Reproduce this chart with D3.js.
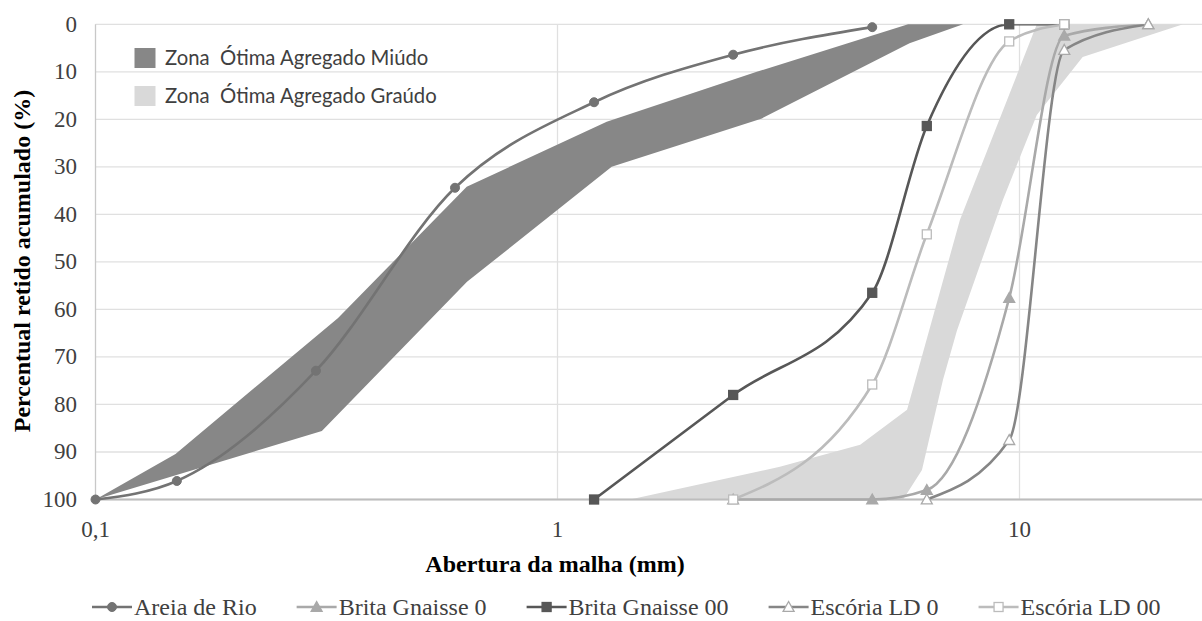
<!DOCTYPE html>
<html>
<head>
<meta charset="utf-8">
<script src="https://cdn.jsdelivr.net/npm/d3@7"></script>
<style>
  html, body { margin: 0; padding: 0; background: #ffffff; }
  svg { display: block; }
</style>
</head>
<body>
<svg id="chart" width="1202" height="621"></svg>
<script>
// ---- Axis ticks -----------------------------------------------------------
const yTickValues = [0, 10, 20, 30, 40, 50, 60, 70, 80, 90, 100];
const xTickValues = [0.1, 1, 10];
const xTickLabels = ["0,1", "1", "10"];

// ---- Sieve curves (abertura em mm, % retido acumulado) --------------------
const areiaX = [0.1, 0.15, 0.3, 0.6, 1.2, 2.4, 4.8];
const areiaY = [100, 96.1, 72.9, 34.4, 16.4, 6.4, 0.6];

const britaG0X = [2.4, 4.8, 6.3, 9.5, 12.5, 19];
const britaG0Y = [100, 100, 98, 57.6, 2.4, 0];

const britaG00X = [1.2, 2.4, 4.8, 6.3, 9.5, 12.5];
const britaG00Y = [100, 78, 56.5, 21.4, 0, 0];

const escoriaLD0X = [6.3, 9.5, 12.5, 19];
const escoriaLD0Y = [100, 87.5, 5.4, 0];

const escoriaLD00X = [2.4, 4.8, 6.3, 9.5, 12.5];
const escoriaLD00Y = [100, 75.8, 44.2, 3.6, 0];

// ---- Optimal grading zones -------------------------------------------------
// fine aggregate: edge with the lower retained values, then the higher one
const miudoLowX = [0.1, 0.149, 0.335, 0.636, 1.278, 2.70, 5.74, 7.55];
const miudoLowY = [100, 90.4, 61.8, 34.2, 20.5, 10, 0, 0];
const miudoHighX = [0.1, 0.309, 0.637, 1.31, 2.77, 5.78, 7.55];
const miudoHighY = [100, 85.6, 54.2, 30, 19.8, 4, 0];

// coarse aggregate: finer-side edge, then coarser-side edge
const graudoFineX = [1.435, 3.03, 4.52, 5.71, 7.43, 10.9];
const graudoFineY = [100, 93.1, 88.5, 81.1, 41.2, 0];
const graudoCoarseX = [5.60, 6.15, 6.83, 7.32, 9.21, 10.9, 13.7, 22.6];
const graudoCoarseY = [100, 93.8, 74.8, 64.5, 36.9, 19.1, 6.9, 0];

// ---- Legend labels ---------------------------------------------------------
const seriesNames = ["Areia de Rio", "Brita Gnaisse 0", "Brita Gnaisse 00", "Escória LD 0", "Escória LD 00"];
const zoneNames = ["Zona  Ótima Agregado Miúdo", "Zona  Ótima Agregado Graúdo"];

// ---- Layout -----------------------------------------------------------------
const W = 1202, H = 621;
const plot = { left: 95.5, right: 1202, top: 24.3, bottom: 499.5 };
const decadePx = 462;
const xMax = 0.1 * Math.pow(10, (plot.right - plot.left) / decadePx);

const x = d3.scaleLog().domain([0.1, xMax]).range([plot.left, plot.right]);
const y = d3.scaleLinear().domain([0, 100]).range([plot.top, plot.bottom]);

const svg = d3.select("#chart");
const zip = (xs, ys) => xs.map((v, i) => [v, ys[i]]);

svg.append("defs").append("clipPath").attr("id", "plot-clip")
  .append("rect")
  .attr("x", plot.left).attr("y", plot.top)
  .attr("width", plot.right - plot.left).attr("height", plot.bottom - plot.top + 2);

// grid
const grid = svg.append("g");
grid.selectAll("line.h").data(yTickValues).join("line")
  .attr("x1", plot.left).attr("x2", plot.right)
  .attr("y1", d => y(d)).attr("y2", d => y(d))
  .attr("stroke", "#e0e0e0").attr("stroke-width", 1.3);
grid.selectAll("line.v").data(xTickValues.slice(1)).join("line")
  .attr("x1", d => x(d)).attr("x2", d => x(d))
  .attr("y1", plot.top).attr("y2", plot.bottom)
  .attr("stroke", "#e0e0e0").attr("stroke-width", 1.3);

// zones
const areaPath = d3.line().x(d => x(d[0])).y(d => y(d[1]));
const miudoPoly = zip(miudoLowX, miudoLowY)
  .concat(zip(miudoHighX, miudoHighY).reverse().slice(1));
const graudoPoly = zip(graudoFineX, graudoFineY)
  .concat(zip(graudoCoarseX, graudoCoarseY).reverse());
svg.append("path").attr("d", areaPath(graudoPoly) + "Z").attr("fill", "#d9d9d9");
svg.append("path").attr("d", areaPath(miudoPoly) + "Z").attr("fill", "#878787");

// axis lines
svg.append("line").attr("x1", plot.left).attr("x2", plot.left)
  .attr("y1", plot.top).attr("y2", plot.bottom)
  .attr("stroke", "#c8c8c8").attr("stroke-width", 1.3);
svg.append("line").attr("x1", plot.left).attr("x2", plot.right)
  .attr("y1", plot.bottom).attr("y2", plot.bottom)
  .attr("stroke", "#bdbdbd").attr("stroke-width", 2);

// tick labels
const serif = "'Liberation Serif', 'Times New Roman', serif";
svg.append("g").selectAll("text").data(yTickValues).join("text")
  .attr("x", 77).attr("y", d => y(d) + 7.5)
  .attr("text-anchor", "end")
  .attr("font-family", serif).attr("font-size", 23).attr("fill", "#404040")
  .text(d => d);
svg.append("g").selectAll("text").data(xTickValues).join("text")
  .attr("x", d => x(d)).attr("y", 537)
  .attr("text-anchor", "middle")
  .attr("font-family", serif).attr("font-size", 23).attr("fill", "#404040")
  .text((d, i) => xTickLabels[i]);

// axis titles
svg.append("text")
  .attr("x", 555).attr("y", 572)
  .attr("text-anchor", "middle")
  .attr("font-family", serif).attr("font-weight", "bold").attr("font-size", 24)
  .attr("fill", "#000").text("Abertura da malha (mm)");
svg.append("text")
  .attr("transform", "translate(30,261) rotate(-90)")
  .attr("text-anchor", "middle")
  .attr("font-family", serif).attr("font-weight", "bold").attr("font-size", 24)
  .attr("fill", "#000").text("Percentual retido acumulado (%)");

// series
const series = [
  { xs: areiaX, ys: areiaY, color: "#737373", marker: "circle", fill: "#737373" },
  { xs: britaG0X, ys: britaG0Y, color: "#a9a9a9", marker: "triangle", fill: "#a9a9a9" },
  { xs: britaG00X, ys: britaG00Y, color: "#575757", marker: "square", fill: "#575757" },
  { xs: escoriaLD0X, ys: escoriaLD0Y, color: "#868686", marker: "triangle", fill: "#ffffff", stroke: "#a9a9a9" },
  { xs: escoriaLD00X, ys: escoriaLD00Y, color: "#bcbcbc", marker: "square", fill: "#ffffff", stroke: "#bcbcbc" }
].map((s, i) => Object.assign(s, { name: seriesNames[i] }));

const smooth = d3.line().x(d => x(d[0])).y(d => y(d[1]))
  .curve(d3.curveMonotoneX);

function drawMarker(g, kind, cx, cy, fill, stroke) {
  if (kind === "circle") {
    g.append("circle").attr("cx", cx).attr("cy", cy).attr("r", 4.5)
      .attr("fill", fill).attr("stroke", stroke || fill).attr("stroke-width", 1);
  } else if (kind === "square") {
    g.append("rect").attr("x", cx - 4.5).attr("y", cy - 4.5)
      .attr("width", 9).attr("height", 9)
      .attr("fill", fill).attr("stroke", stroke || fill).attr("stroke-width", 1.3);
  } else {
    const s = 5.5;
    g.append("path")
      .attr("d", `M${cx},${cy - s}L${cx + s},${cy + s * 0.8}L${cx - s},${cy + s * 0.8}Z`)
      .attr("fill", fill).attr("stroke", stroke || fill).attr("stroke-width", 1.3);
  }
}

series.forEach(s => {
  const pts = zip(s.xs, s.ys);
  const g = svg.append("g");
  g.append("path").attr("d", smooth(pts))
    .attr("clip-path", "url(#plot-clip)")
    .attr("fill", "none").attr("stroke", s.color).attr("stroke-width", 2.6)
    .attr("stroke-linejoin", "round");
  pts.forEach(p => drawMarker(g, s.marker, x(p[0]), y(p[1]), s.fill, s.stroke));
});

// zone legend (inside plot)
const zoneFont = "Lato, 'Open Sans', sans-serif";
const zoneColors = ["#878787", "#d9d9d9"];
const zoneRowY = [58, 96];
zoneNames.forEach((label, i) => {
  svg.append("rect").attr("x", 134.5).attr("y", zoneRowY[i] - 10).attr("width", 21).attr("height", 20)
    .attr("fill", zoneColors[i]);
  svg.append("text").attr("x", 165).attr("y", zoneRowY[i] + 6.8)
    .attr("font-family", zoneFont).attr("font-size", 20.3).attr("fill", "#404040")
    .style("white-space", "pre").text(label);
});

// series legend (bottom), laid out from measured label widths
const legY = 607;
let cursor = 92;
series.forEach(s => {
  const g = svg.append("g");
  g.append("line").attr("x1", cursor).attr("x2", cursor + 40).attr("y1", legY).attr("y2", legY)
    .attr("stroke", s.color).attr("stroke-width", 2.6);
  drawMarker(g, s.marker, cursor + 20, legY, s.fill, s.stroke);
  const t = g.append("text").attr("x", cursor + 42).attr("y", legY + 8)
    .attr("font-family", serif).attr("font-size", 24).attr("fill", "#404040")
    .text(s.name);
  cursor += 42 + t.node().getComputedTextLength() + 40;
});
</script>
</body>
</html>
